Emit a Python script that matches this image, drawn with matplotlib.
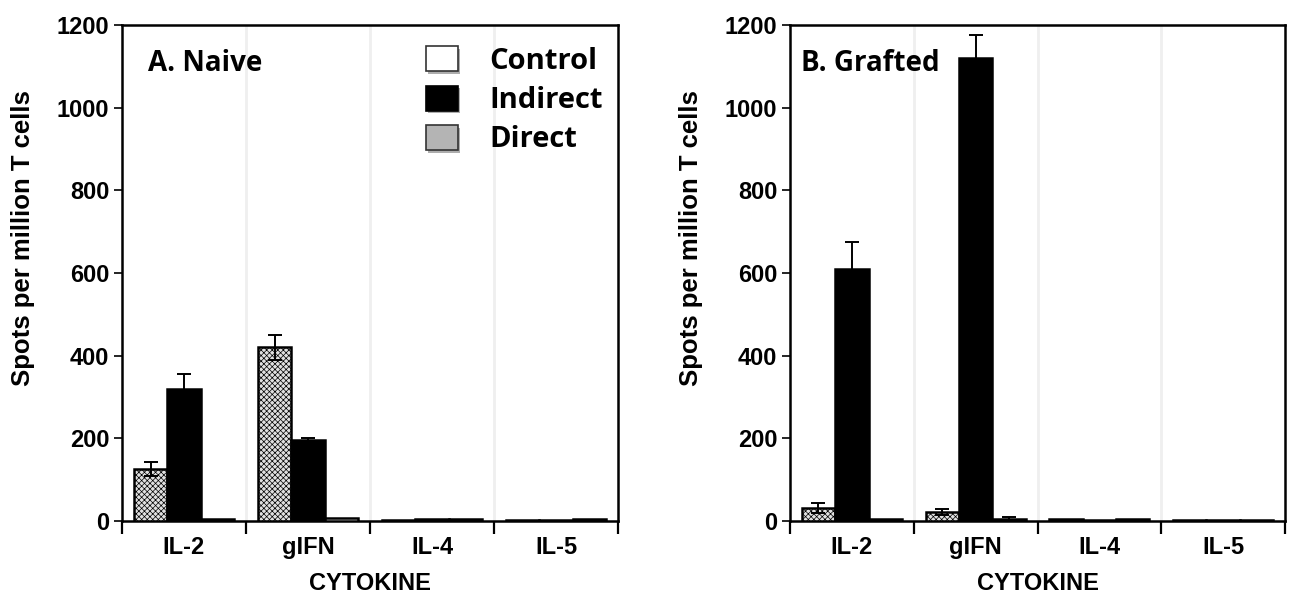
import matplotlib
matplotlib.use("Agg")
import matplotlib.pyplot as plt
import matplotlib.patheffects as pe
from matplotlib.patches import Patch
import numpy as np

plt.rcParams['hatch.color'] = '#bdbdbd'
plt.rcParams['hatch.linewidth'] = 0.5

cytokines = ["IL-2", "gIFN", "IL-4", "IL-5"]
series = ["Direct", "Indirect", "Control"]

naive_direct = [125, 420, 3, 2]
naive_direct_err = [17, 30, 0, 0]
naive_indirect = [320, 195, 6, 2]
naive_indirect_err = [35, 7, 0, 0]
naive_control = [5, 8, 4, 4]
naive_control_err = [0, 0, 0, 0]

grafted_direct = [32, 22, 4, 2]
grafted_direct_err = [12, 8, 0, 0]
grafted_indirect = [610, 1120, 3, 3]
grafted_indirect_err = [65, 55, 0, 0]
grafted_control = [5, 5, 4, 2]
grafted_control_err = [0, 4, 0, 0]

panel_titles = ["A. Naive", "B. Grafted"]
yticks = [0, 200, 400, 600, 800, 1000, 1200]

fig = plt.figure(figsize=(12.91, 5.97), dpi=100)
axA = fig.add_axes([122/1291, 76/597, 496/1291, 496/597])
axB = fig.add_axes([790/1291, 76/597, 495/1291, 496/597])

tick_font = dict(family='Liberation Sans', weight='bold', size=17)
label_font = dict(family='Liberation Sans', weight='bold', size=17)
ylabel_font = dict(family='Liberation Sans', weight='bold', size=18.5)
cal_font = ['Open Sans', 'DejaVu Sans']

styles = {
    "Direct": dict(facecolor='#e0e0e0', edgecolor='black', hatch='xxxxxx'),
    "Indirect": dict(facecolor='black', edgecolor='black'),
    "Control": dict(facecolor='white', edgecolor='black'),
}

def draw(ax, d, de, ind, inde, c, ce, title, title_x):
    x = np.arange(len(cytokines)) + 0.5
    w = 0.27
    for off, vals, errs, name in [(-w, d, de, "Direct"), (0, ind, inde, "Indirect"), (w, c, ce, "Control")]:
        ax.bar(x + off, vals, width=w, linewidth=1.8, zorder=3, **styles[name])
        e = np.array(errs, dtype=float)
        mask = e > 0
        if mask.any():
            ax.errorbar((x + off)[mask], np.array(vals)[mask], yerr=e[mask], fmt='none',
                        ecolor='black', elinewidth=1.4, capsize=5, capthick=1.4, zorder=4)
    ax.set_xlim(0, len(cytokines))
    ax.set_ylim(0, 1200)
    for b in range(1, len(cytokines)):
        ax.axvline(b, color='#efefef', linewidth=2, zorder=1)
    ax.set_xticks(np.arange(len(cytokines) + 1))
    ax.set_xticklabels([])
    ax.set_xticks(x, minor=True)
    ax.set_xticklabels(cytokines, minor=True, fontdict=tick_font)
    ax.tick_params(axis='x', which='major', direction='out', length=9, width=1.6)
    ax.tick_params(axis='x', which='minor', length=0, pad=11)
    ax.set_yticks(yticks)
    ax.set_yticklabels([str(t) for t in yticks], fontdict=tick_font)
    ax.tick_params(axis='y', direction='out', length=6, width=1.2, pad=3)
    for s in ax.spines.values():
        s.set_linewidth(1.8)
    ax.set_xlabel("CYTOKINE", fontdict=label_font, labelpad=9)
    ax.set_ylabel("Spots per million T cells", fontdict=ylabel_font)
    ax.yaxis.set_label_coords(-0.176, 0.57)
    ax.text(title_x, 0.922, title, transform=ax.transAxes, family=cal_font, weight='bold',
            fontsize=20, va='center', ha='left')

draw(axA, naive_direct, naive_direct_err, naive_indirect, naive_indirect_err,
     naive_control, naive_control_err, panel_titles[0], 0.052)
draw(axB, grafted_direct, grafted_direct_err, grafted_indirect, grafted_indirect_err,
     grafted_control, grafted_control_err, panel_titles[1], 0.022)

shadow = [pe.SimplePatchShadow(offset=(2, -2), shadow_rgbFace='#777777', alpha=0.6), pe.Normal()]
handles = [
    Patch(facecolor='white', edgecolor='#333333', linewidth=1.2, label='Control', path_effects=shadow),
    Patch(facecolor='black', edgecolor='black', linewidth=1.2, label='Indirect', path_effects=shadow),
    Patch(facecolor='#b4b4b4', edgecolor='#333333', linewidth=1.2, label='Direct', path_effects=shadow),
]
axA.legend(handles=handles, loc='upper left', bbox_to_anchor=(0.612, 0.957), frameon=False,
           prop=dict(family=cal_font, weight='bold', size=21), handlelength=1.1, handleheight=0.95,
           handletextpad=1.1, labelspacing=0.33, borderpad=0, borderaxespad=0)

fig.savefig("out.png", dpi=100, facecolor='white')
